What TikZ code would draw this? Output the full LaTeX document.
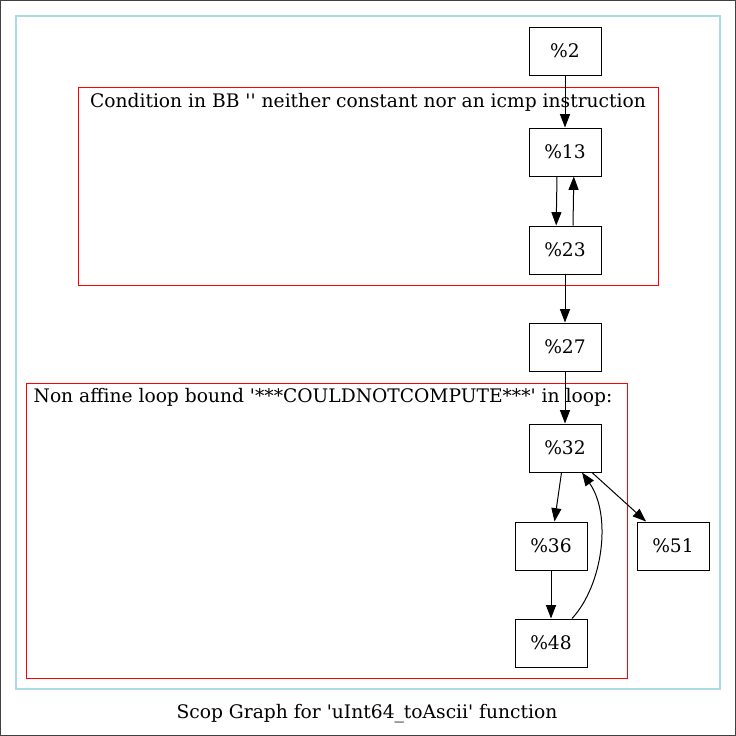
\documentclass[tikz,border=0pt]{standalone}
\usepackage{fontspec}
\setmainfont{DejaVu Serif}
\usetikzlibrary{arrows.meta}
\definecolor{gvblue}{HTML}{ADD8E6}
\begin{document}
\begin{tikzpicture}[x=0.75pt,y=-0.75pt,
  bb/.style={draw,line width=0.75pt,minimum width=54pt,minimum height=36pt,inner sep=0pt,font=\fontsize{14}{17}\selectfont},
  edge/.style={line width=0.75pt,-{Triangle[length=10pt,width=7.5pt]}},
  lbl/.style={inner sep=0pt,font=\fontsize{14}{17}\selectfont}]
\useasboundingbox (0,0) rectangle (736,736);
\draw [color=black!75,line width=1pt] (0.5,0.5) rectangle (735.5,735.5);
\draw [color=gvblue,line width=1pt] (16,16) rectangle (720,689);
\draw [color=red,line width=0.75pt] (78,87) rectangle (658,285);
\draw [color=red,line width=0.75pt] (26,383) rectangle (627,678);
\node[lbl] (cond) at (368,102) {Condition in BB \textquotesingle\textquotesingle{} neither constant nor an icmp instruction};
\node[lbl] (loop) at (323,397) {Non affine loop bound \textquotesingle***COULDNOTCOMPUTE***\textquotesingle{} in loop:};
\node[bb] (n2) at (565,51) {\%2};
\node[bb] (n13) at (565,152) {\%13};
\node[bb] (n23) at (565,250) {\%23};
\node[bb] (n27) at (565,347) {\%27};
\node[bb] (n32) at (565,448) {\%32};
\node[bb] (n36) at (551,546) {\%36};
\node[bb] (n51) at (673,546) {\%51};
\node[bb] (n48) at (551,643) {\%48};
\draw [edge] (n2) -- (n13);
\draw [edge] ([xshift=-6pt]n13.south) -- ([xshift=-6.6pt]n23.north);
\draw [edge] ([xshift=6pt]n23.north) -- ([xshift=6.6pt]n13.south);
\draw [edge] (n23) -- (n27);
\draw [edge] (n27) -- (n32);
\draw [edge] (n32) -- (n36);
\draw [edge] (n32) -- (n51);
\draw [edge] (n36) -- (n48);
\draw [edge] ([xshift=15.75pt]n48.north) .. controls (603,585) and (612,515) .. ([xshift=12.75pt]n32.south);
\node[lbl] (caption) at (367,714) {Scop Graph for \textquotesingle uInt64\_toAscii\textquotesingle{} function};
\end{tikzpicture}
\end{document}
